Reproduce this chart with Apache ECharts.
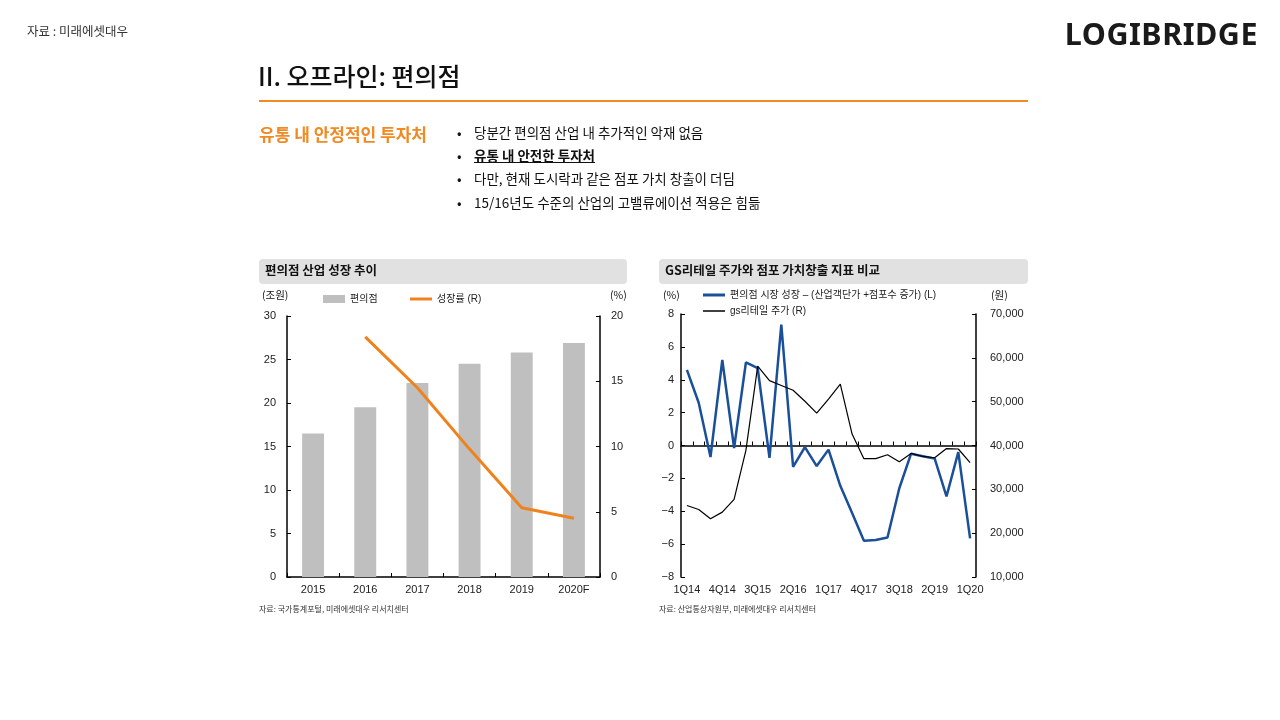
<!DOCTYPE html>
<html><head><meta charset="utf-8">
<script src="https://cdn.jsdelivr.net/npm/echarts@6/dist/echarts.min.js"></script>
<style>
html,body{margin:0;padding:0;background:#fff;}
body{width:1280px;height:720px;position:relative;overflow:hidden;font-family:"Noto Sans CJK KR","Noto Sans",sans-serif;color:#111;}
#chart{position:absolute;left:0;top:0;width:1280px;height:720px;}
.t{position:absolute;white-space:nowrap;line-height:1;}
.bar{position:absolute;background:#e1e1e1;border-radius:4px;}
</style></head>
<body>
<div id="chart"></div>
<div class="t" style="left:27px;top:25px;font-size:12.5px;color:#333;">자료 : 미래에셋대우</div>
<div class="t" style="right:22px;top:18px;font-size:30.5px;font-weight:700;color:#1a1a1a;font-family:'Noto Sans','Open Sans',sans-serif;letter-spacing:0.5px;">LOGIBRIDGE</div>
<div class="t" style="left:258px;top:63px;font-size:25px;font-weight:500;color:#111;">II. 오프라인: 편의점</div>
<div style="position:absolute;left:259px;top:100px;width:769px;height:1.5px;background:#f08a24;"></div>
<div class="t" style="left:259px;top:125px;font-size:17px;font-weight:700;color:#f08a24;">유통 내 안정적인 투자처</div>
<div class="t" style="left:457px;top:126px;font-size:13.5px;">•</div>
<div class="t" style="left:474px;top:126px;font-size:13.5px;">당분간 편의점 산업 내 추가적인 악재 없음</div>
<div class="t" style="left:457px;top:149px;font-size:13.5px;">•</div>
<div class="t" style="left:474px;top:149px;font-size:13.5px;font-weight:700;text-decoration:underline;">유통 내 안전한 투자처</div>
<div class="t" style="left:457px;top:172px;font-size:13.5px;">•</div>
<div class="t" style="left:474px;top:172px;font-size:13.5px;">다만, 현재 도시락과 같은 점포 가치 창출이 더딤</div>
<div class="t" style="left:457px;top:196px;font-size:13.5px;">•</div>
<div class="t" style="left:474px;top:196px;font-size:13.5px;">15/16년도 수준의 산업의 고밸류에이션 적용은 힘듦</div>

<div class="bar" style="left:259px;top:259px;width:368px;height:25px;"></div>
<div class="t" style="left:265px;top:264px;font-size:12.5px;font-weight:700;">편의점 산업 성장 추이</div>
<div class="bar" style="left:659px;top:259px;width:369px;height:25px;"></div>
<div class="t" style="left:665px;top:264px;font-size:12.5px;font-weight:700;">GS리테일 주가와 점포 가치창출 지표 비교</div>

<div class="t" style="left:262px;top:290px;font-size:10.5px;">(조원)</div>
<div class="t" style="left:610px;top:290px;font-size:10.5px;">(%)</div>
<div class="t" style="left:663px;top:290px;font-size:10.5px;">(%)</div>
<div class="t" style="left:991px;top:290px;font-size:10.5px;">(원)</div>

<div class="t" style="left:259px;top:605px;font-size:8px;color:#333;">자료: 국가통계포털, 미래에셋대우 리서치센터</div>
<div class="t" style="left:659px;top:605px;font-size:8px;color:#333;">자료: 산업통상자원부, 미래에셋대우 리서치센터</div>

<script>
// Left chart data
const years = ['2015','2016','2017','2018','2019','2020F'];
const storeSales = [16.5, 19.5, 22.3, 24.5, 25.8, 26.9];
const growthRate = [null, 18.4, 14.5, 9.8, 5.3, 4.5];

// Right chart data
const quarters = ['1Q14','2Q14','3Q14','4Q14','1Q15','2Q15','3Q15','4Q15','1Q16','2Q16','3Q16','4Q16',
  '1Q17','2Q17','3Q17','4Q17','1Q18','2Q18','3Q18','4Q18','1Q19','2Q19','3Q19','4Q19','1Q20'];
const marketGrowth = [4.6, 2.6, -0.7, 5.2, -0.15, 5.05, 4.7, -0.75, 7.35, -1.3, -0.1, -1.25,
  -0.25, -2.45, -4.1, -5.8, -5.75, -5.6, -2.6, -0.5, -0.65, -0.8, -3.1, -0.4, -5.65];
const gsPrice = [26300, 25400, 23300, 24800, 27700, 38900, 58100, 54800, 53700, 52600, 50100, 47400,
  50600, 54000, 42600, 37000, 37000, 37900, 36300, 38200, 37500, 37200, 39300, 39200, 36100];

const FONT = 'Liberation Sans, Noto Sans CJK KR, sans-serif';
const lbl = {color:'#222', fontSize:11, fontFamily: FONT};
const lgd = {color:'#222', fontSize:10, fontFamily: FONT};
const axLine = {show:true, lineStyle:{color:'#000', width:1.5}};
const minus = v => String(v).replace('-', '−');

const chart = echarts.init(document.getElementById('chart'), null, {renderer:'canvas'});
chart.setOption({
  animation:false,
  textStyle:{fontFamily: FONT},
  grid:[
    {left:287, top:316, width:313, height:261, containLabel:false},
    {left:681, top:314, width:295, height:263, containLabel:false}
  ],
  legend:[
    {left:323, top:294, padding:0, itemWidth:22, itemHeight:8, data:[{name:'편의점', icon:'rect'}], textStyle:lgd},
    {left:410, top:294, padding:0, itemWidth:22, itemHeight:3, data:[{name:'성장률 (R)', icon:'rect'}], textStyle:lgd},
    {left:703, top:290, padding:0, itemWidth:22, itemHeight:3, data:[{name:'편의점 시장 성장 – (산업객단가 +점포수 증가) (L)', icon:'rect'}], textStyle:lgd},
    {left:703, top:306, padding:0, itemWidth:22, itemHeight:1.5, data:[{name:'gs리테일 주가 (R)', icon:'rect'}], textStyle:lgd}
  ],
  xAxis:[
    {type:'category', gridIndex:0, data:years, axisLine:axLine,
     axisTick:{show:true, inside:true, length:4, lineStyle:{color:'#000', width:1}},
     axisLabel:{...lbl, margin:7}},
    {type:'category', gridIndex:1, data:quarters, position:'bottom',
     axisLine:{show:false, onZero:false}, axisTick:{show:false},
     axisLabel:{...lbl, margin:7, interval:2}},
    {type:'category', gridIndex:1, data:quarters, position:'bottom',
     axisLine:{show:true, onZero:true, onZeroAxisIndex:2, lineStyle:{color:'#000', width:1.5}},
     axisTick:{show:true, inside:true, length:4, interval:0, lineStyle:{color:'#000', width:1}},
     axisLabel:{show:false}}
  ],
  yAxis:[
    {type:'value', gridIndex:0, min:0, max:30, interval:5, axisLine:axLine, splitLine:{show:false},
     axisTick:{show:true, inside:true, length:4, lineStyle:{color:'#000'}}, axisLabel:{...lbl, margin:11}},
    {type:'value', gridIndex:0, min:0, max:20, interval:5, position:'right', axisLine:axLine, splitLine:{show:false},
     axisTick:{show:true, inside:true, length:4, lineStyle:{color:'#000'}}, axisLabel:{...lbl, margin:11}},
    {type:'value', gridIndex:1, min:-8, max:8, interval:2, axisLine:axLine, splitLine:{show:false},
     axisTick:{show:true, inside:true, length:4, lineStyle:{color:'#000'}}, axisLabel:{...lbl, margin:7, formatter:minus}},
    {type:'value', gridIndex:1, min:10000, max:70000, interval:10000, position:'right', axisLine:axLine, splitLine:{show:false},
     axisTick:{show:true, inside:true, length:4, lineStyle:{color:'#000'}},
     axisLabel:{...lbl, margin:14, formatter: v => v.toLocaleString('en-US')}}
  ],
  series:[
    {name:'편의점', type:'bar', xAxisIndex:0, yAxisIndex:0, data:storeSales, barWidth:'42%',
     itemStyle:{color:'#bfbfbf'}},
    {name:'성장률 (R)', type:'line', xAxisIndex:0, yAxisIndex:1, data:growthRate, symbol:'none',
     lineStyle:{color:'#f0821e', width:3}, itemStyle:{color:'#f0821e'}},
    {name:'편의점 시장 성장 – (산업객단가 +점포수 증가) (L)', type:'line', xAxisIndex:1, yAxisIndex:2,
     data:marketGrowth, symbol:'none', lineStyle:{color:'#1a4f9a', width:2.5}, itemStyle:{color:'#1a4f9a'}, z:3},
    {name:'gs리테일 주가 (R)', type:'line', xAxisIndex:1, yAxisIndex:3, data:gsPrice, symbol:'none',
     lineStyle:{color:'#000', width:1.2}, itemStyle:{color:'#000'}, z:4}
  ]
});
</script>
</body></html>
